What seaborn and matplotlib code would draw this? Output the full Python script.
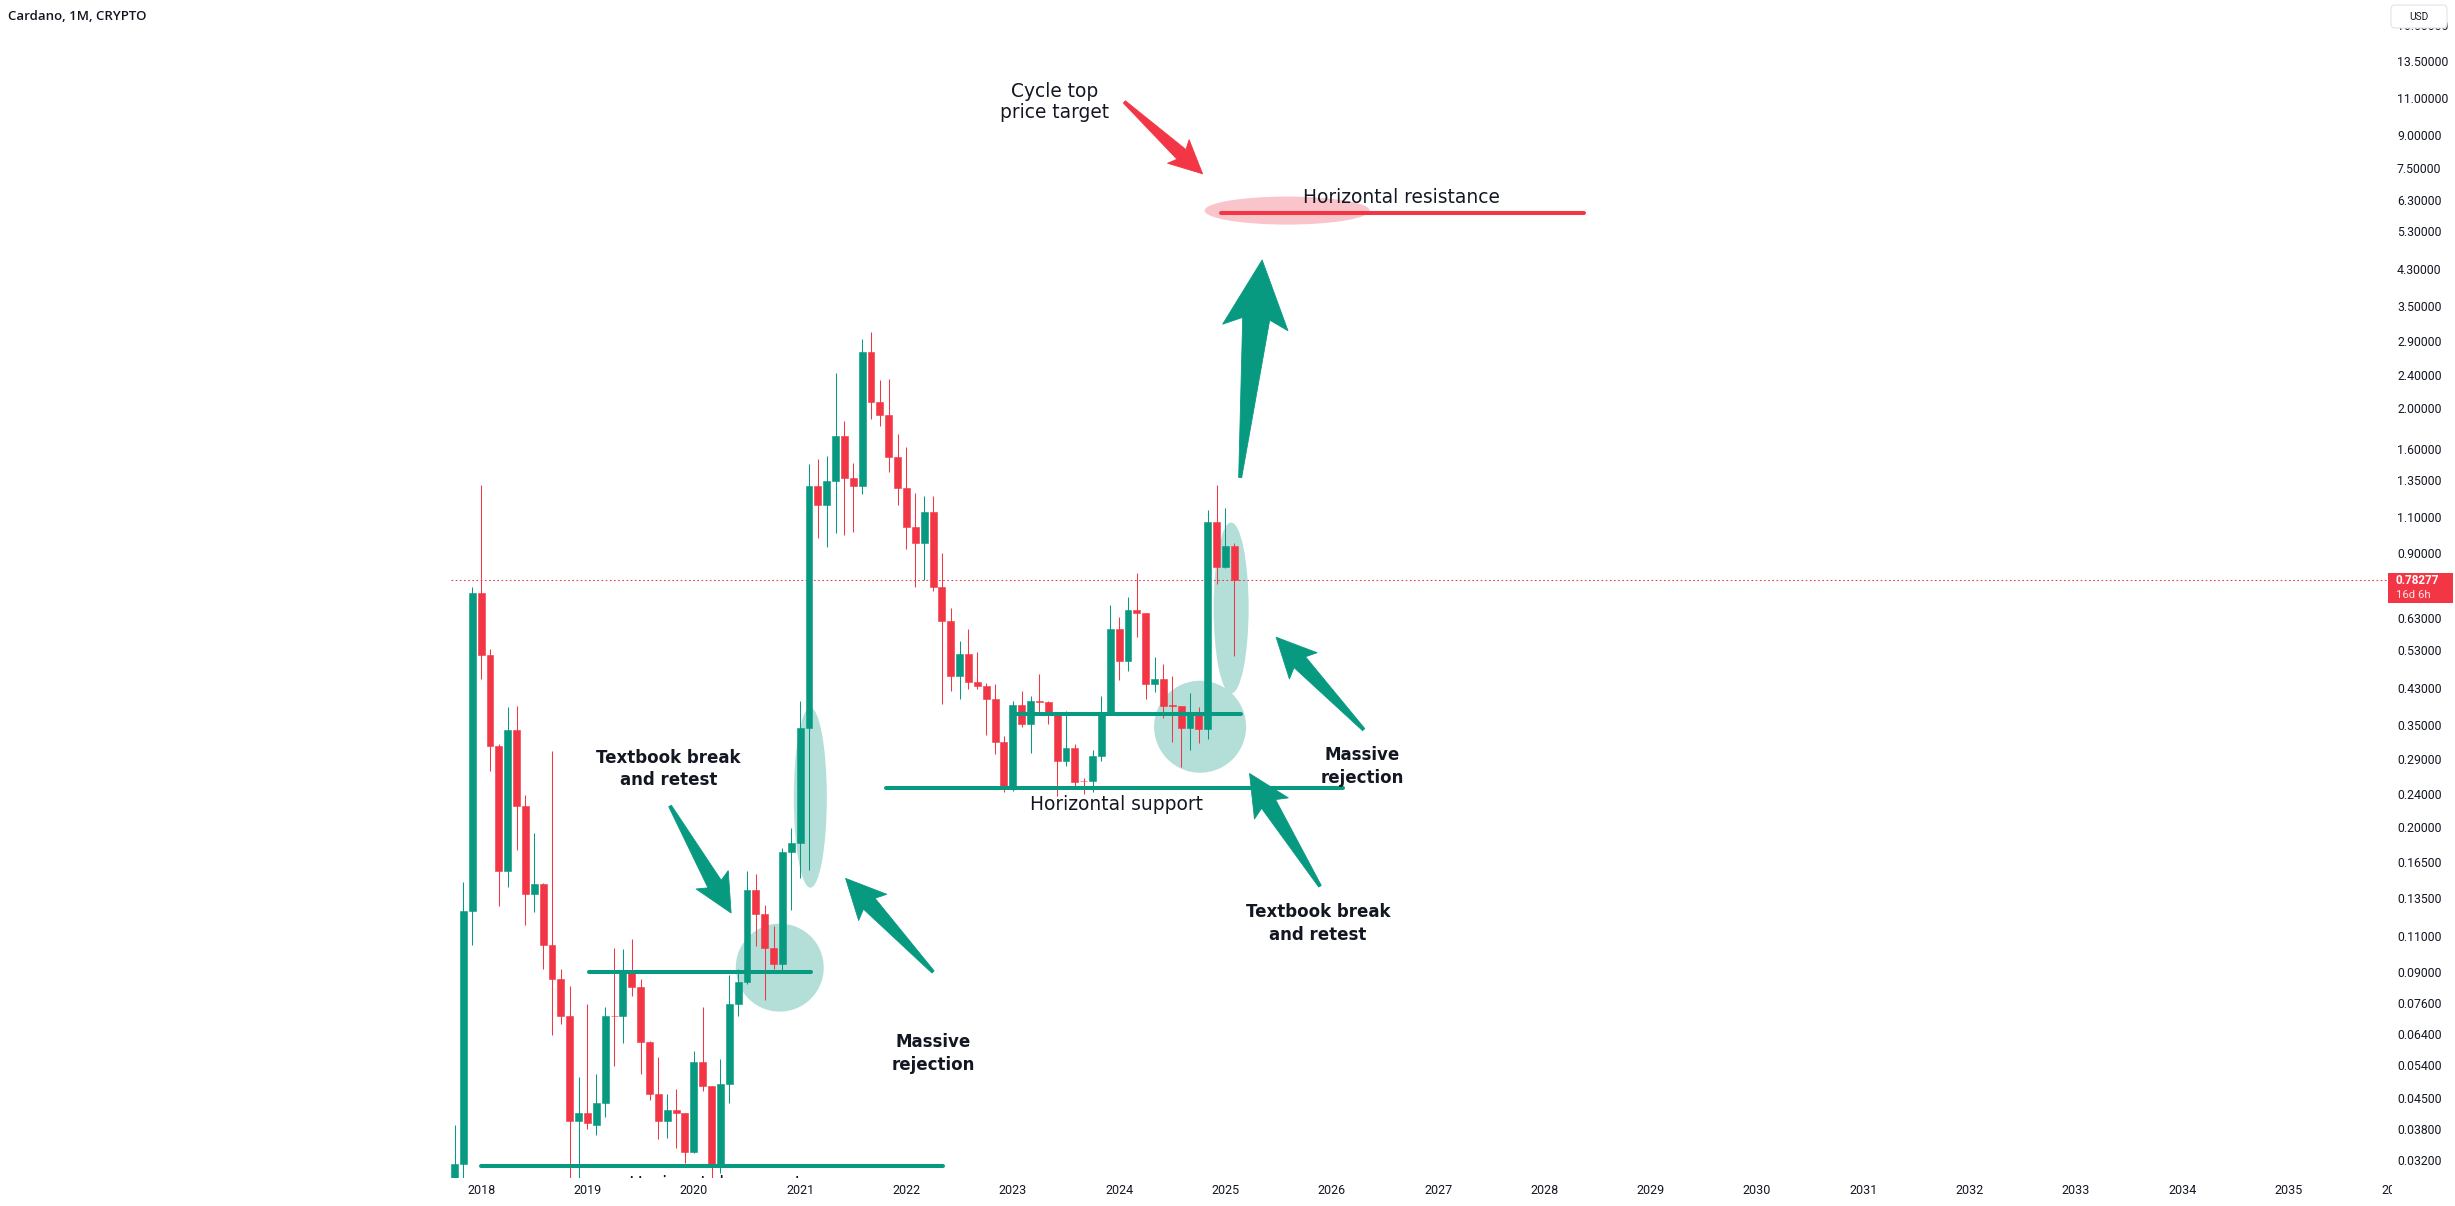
import numpy as np
import pandas as pd
import matplotlib
matplotlib.use("Agg")
import matplotlib.pyplot as plt
import matplotlib.ticker as mticker
import seaborn as sns
from matplotlib.patches import Ellipse, Polygon, FancyBboxPatch, Rectangle
from matplotlib.transforms import Bbox, IdentityTransform, blended_transform_factory

# ---------------- data (monthly candles, Oct 2017 .. Feb 2025) ----------------
months = pd.period_range("2017-10", "2025-02", freq="M").strftime("%Y-%m").tolist()

open_ = [0.0250, 0.0315, 0.1269, 0.7290, 0.5180, 0.3151, 0.1579, 0.3428, 0.2263, 0.1395,
         0.1471, 0.1051, 0.0874, 0.0714, 0.0399, 0.0417, 0.0392, 0.0441, 0.0714, 0.0712,
         0.0917, 0.0836, 0.0618, 0.0463, 0.0400, 0.0424, 0.0417, 0.0338, 0.0552, 0.0484,
         0.0316, 0.0490, 0.0760, 0.0858, 0.1429, 0.1246, 0.1037, 0.0951, 0.1754, 0.1849,
         0.3474, 1.3170, 1.1860, 1.3515, 1.7300, 1.3760, 1.3170, 2.7480, 2.0910, 1.9430,
         1.5450, 1.3030, 1.0510, 0.9627, 1.1390, 0.7557, 0.6268, 0.4632, 0.5219, 0.4481,
         0.4384, 0.4082, 0.3223, 0.2484, 0.3942, 0.3551, 0.4030, 0.4000, 0.3778, 0.2897,
         0.3108, 0.2600, 0.2600, 0.2979, 0.3765, 0.5990, 0.5030, 0.6648, 0.6528, 0.4424,
         0.4547, 0.3937, 0.3927, 0.3479, 0.3765, 0.3449, 1.0785, 0.8437, 0.9451]
high_ = [0.0392, 0.1486, 0.7545, 1.3200, 0.5360, 0.3180, 0.3889, 0.3930, 0.2404, 0.1949,
         0.1479, 0.3062, 0.0921, 0.0840, 0.0510, 0.0760, 0.0519, 0.0747, 0.1037, 0.1029,
         0.1087, 0.0874, 0.0620, 0.0570, 0.0463, 0.0478, 0.0418, 0.0589, 0.0747, 0.0486,
         0.0562, 0.0893, 0.0921, 0.1579, 0.1558, 0.1314, 0.1167, 0.1791, 0.2000, 0.4030,
         1.4840, 1.5250, 1.5500, 2.4470, 1.8810, 1.4920, 2.9510, 3.0660, 2.3550, 2.3680,
         1.7500, 1.6290, 1.2650, 1.2440, 1.2440, 0.9080, 0.6720, 0.5605, 0.5990, 0.5278,
         0.4442, 0.4424, 0.3324, 0.4024, 0.4258, 0.4143, 0.4675, 0.4020, 0.3800, 0.3821,
         0.3180, 0.2634, 0.3078, 0.4150, 0.6834, 0.6385, 0.7129, 0.8133, 0.6528, 0.5125,
         0.4932, 0.4624, 0.3927, 0.4218, 0.3894, 1.1520, 1.3220, 1.1629, 0.9592]
low_ = [0.0180, 0.0270, 0.1051, 0.4543, 0.2742, 0.1307, 0.1448, 0.1777, 0.1173, 0.1263,
        0.0921, 0.0643, 0.0681, 0.0265, 0.0290, 0.0382, 0.0370, 0.0408, 0.0542, 0.0613,
        0.0797, 0.0517, 0.0450, 0.0362, 0.0365, 0.0344, 0.0318, 0.0335, 0.0471, 0.0175,
        0.0300, 0.0441, 0.0712, 0.0851, 0.1045, 0.0777, 0.0921, 0.0920, 0.1280, 0.1526,
        0.1590, 0.9890, 0.9420, 1.0170, 1.0040, 1.0230, 1.2600, 1.9040, 1.8320, 1.4220,
        1.1860, 0.9310, 0.7530, 0.7828, 0.7393, 0.3964, 0.4266, 0.4082, 0.4297, 0.4300,
        0.3343, 0.3006, 0.2439, 0.2450, 0.3499, 0.3032, 0.3765, 0.3551, 0.2390, 0.2819,
        0.2507, 0.2416, 0.2447, 0.2890, 0.3760, 0.4522, 0.4762, 0.5740, 0.4068, 0.4242,
        0.3664, 0.3223, 0.2808, 0.3078, 0.3194, 0.3265, 0.7671, 0.8372, 0.5171]
close_ = [0.0315, 0.1269, 0.7290, 0.5180, 0.3151, 0.1579, 0.3428, 0.2263, 0.1395, 0.1471,
          0.1051, 0.0874, 0.0714, 0.0399, 0.0419, 0.0395, 0.0441, 0.0714, 0.0712, 0.0917,
          0.0836, 0.0618, 0.0463, 0.0400, 0.0424, 0.0417, 0.0338, 0.0552, 0.0484, 0.0316,
          0.0490, 0.0760, 0.0858, 0.1429, 0.1246, 0.1037, 0.0951, 0.1754, 0.1849, 0.3474,
          1.3170, 1.1860, 1.3515, 1.7300, 1.3760, 1.3170, 2.7480, 2.0910, 1.9430, 1.5450,
          1.3030, 1.0510, 0.9627, 1.1390, 0.7557, 0.6268, 0.4632, 0.5219, 0.4481, 0.4384,
          0.4082, 0.3223, 0.2484, 0.3942, 0.3551, 0.4030, 0.4000, 0.3778, 0.2897, 0.3108,
          0.2581, 0.2590, 0.2979, 0.3765, 0.5990, 0.5030, 0.6648, 0.6528, 0.4424, 0.4547,
          0.3927, 0.3927, 0.3479, 0.3731, 0.3449, 1.0785, 0.8437, 0.9451, 0.78277]

last_price = 0.78277
last_label = "0.78277"
countdown = "16d 6h"
title = "Cardano, 1M, CRYPTO"

price_ticks = [16.5, 13.5, 11.0, 9.0, 7.5, 6.3, 5.3, 4.3, 3.5, 2.9, 2.4, 2.0, 1.6, 1.35, 1.1,
               0.9, 0.63, 0.53, 0.43, 0.35, 0.29, 0.24, 0.20, 0.165, 0.135, 0.11, 0.09,
               0.076, 0.064, 0.054, 0.045, 0.038, 0.032]
years = list(range(2018, 2037))
year_labels = [str(y) for y in years]

# drawn horizontal levels (time in month index from Oct 2017, price in USD)
level_names = ["base", "range", "support", "retest", "resistance"]
level_price = [0.0312, 0.0906, 0.25, 0.376, 5.9]
level_from = [3.0, 15.2, 48.7, 63.0, 86.5]
level_to = [55.1, 40.2, 100.3, 88.7, 127.5]
level_kind = ["green", "green", "green", "green", "red"]

GREEN = "#089981"
RED = "#F23645"
TEXT = "#131722"
TEAL_FILL = "#B4DFD9"
PINK_FILL = "#F9C4CA"

# ---------------- figure ----------------
sns.set_theme(style="white")
plt.rcParams["font.family"] = ["DejaVu Sans"]

W, H = 2455, 1206
fig = plt.figure(figsize=(W / 100, H / 100), dpi=100, facecolor="white")
AX_W, AX_B, AX_H = 2388, 28, 1178
ax = fig.add_axes([0, AX_B / H, AX_W / W, AX_H / H])
ax.set_facecolor("white")
ax.set_yscale("log")

x = np.arange(len(months))
o = np.array(open_); hi = np.array(high_); lo = np.array(low_); c = np.array(close_)
cols = np.where(c >= o, GREEN, RED)

ax.vlines(x, lo, hi, colors=cols, linewidth=0.75, zorder=3)
ax.bar(x, np.abs(c - o), bottom=np.minimum(o, c), width=0.78, color=cols,
       edgecolor=cols, linewidth=0.4, zorder=3.1)

lv = pd.DataFrame({
    "level": np.repeat(level_names, 2),
    "x": np.ravel(np.column_stack([level_from, level_to])),
    "price": np.repeat(level_price, 2),
})
pal = {n: (GREEN if k == "green" else RED) for n, k in zip(level_names, level_kind)}
sns.lineplot(data=lv, x="x", y="price", hue="level", palette=pal, estimator=None,
             sort=False, linewidth=2.9, legend=False, ax=ax, zorder=4,
             solid_capstyle="round")

ax.hlines(last_price, -0.45, 218.2, colors=RED, linewidth=0.75,
          linestyles=(0, (1.6, 2.4)), zorder=2.5)

ax.set_xlim(-51.3, 218.2)
ax.set_ylim(0.02924, 19.04)
ax.set_xlabel(""); ax.set_ylabel("")
ax.xaxis.set_major_locator(mticker.NullLocator())
ax.xaxis.set_minor_locator(mticker.NullLocator())
ax.yaxis.set_major_locator(mticker.NullLocator())
ax.yaxis.set_minor_locator(mticker.NullLocator())
for s in ax.spines.values():
    s.set_visible(False)

# ---------------- axes labels ----------------
ytrans = blended_transform_factory(ax.transAxes, ax.transData)
for v in price_ticks:
    ax.text(1 + 9 / AX_W, v, f"{v:.5f}", transform=ytrans, ha="left", va="center",
            fontsize=8.8, family=["Roboto", "DejaVu Sans"], color=TEXT, clip_on=False)

xtrans = blended_transform_factory(ax.transData, ax.transAxes)
clipbb = Bbox.from_extents(0, 0, 2392, H)
for y, lab in zip(years, year_labels):
    t = ax.text((y - 2017) * 12 - 9, -12 / AX_H, lab, transform=xtrans, ha="center",
                va="center", fontsize=9, family=["Roboto", "DejaVu Sans"], color=TEXT)
    t.set_clip_path(None)
    t.set_clip_box(clipbb)
    t.set_clip_on(True)

# ---------------- drawings ----------------
def add_ellipse(ci, cp, w, h, color):
    cxy = ax.transData.transform((ci, cp))
    ax.add_patch(Ellipse(cxy, w, h, facecolor=color, edgecolor="none",
                         transform=IdentityTransform(), zorder=1))

def add_arrow(ti, tp, pi, pp, color):
    T = ax.transData.transform((ti, tp))
    P = ax.transData.transform((pi, pp))
    d = P - T
    L = np.hypot(*d)
    u = d / L
    n = np.array([-u[1], u[0]])
    hl, hw, sw, nt, tw = 0.27 * L, 0.15 * L, 0.062 * L, 0.04 * L, 1.5
    B = P - u * hl
    pts = [T + n * tw, B + n * sw, B - u * nt + n * hw, P,
           B - u * nt - n * hw, B - n * sw, T - n * tw]
    ax.add_patch(Polygon(pts, closed=True, facecolor=color, edgecolor=color,
                         linewidth=0.6, joinstyle="round",
                         transform=IdentityTransform(), zorder=5, clip_on=False))

add_ellipse(36.7, 0.0930, 88, 88, TEAL_FILL)
add_ellipse(40.15, 0.2368, 33, 180, TEAL_FILL)
add_ellipse(84.14, 0.3498, 92, 92, TEAL_FILL)
add_ellipse(87.64, 0.6721, 35, 171, TEAL_FILL)
add_ellipse(93.96, 5.98, 165, 28, PINK_FILL)

add_arrow(24.32, 0.2262, 31.21, 0.1256, GREEN)
add_arrow(54.0, 0.0908, 44.13, 0.1519, GREEN)
add_arrow(88.66, 1.377, 91.14, 4.557, GREEN)
add_arrow(102.6, 0.3443, 92.72, 0.5723, GREEN)
add_arrow(97.67, 0.1455, 89.72, 0.2705, GREEN)
add_arrow(75.59, 10.87, 84.42, 7.32, RED)

norm = dict(fontsize=13.4, color=TEXT, ha="center", va="center", zorder=6,
            family=["DejaVu Sans"], linespacing=1.17)
bold = dict(fontsize=12.0, color=TEXT, ha="center", va="center", zorder=6,
            family=["DejaVu Sans"], fontweight="bold", linespacing=1.32)
ax.text(67.67, 10.87, "Cycle top\nprice target", **norm)
ax.text(106.83, 6.437, "Horizontal resistance", **norm)
ax.text(74.7, 0.2277, "Horizontal support", **norm)
ax.text(24.15, 0.2776, "Textbook break\nand retest", **bold)
ax.text(54.0, 0.05794, "Massive\nrejection", **bold)
ax.text(102.4, 0.2812, "Massive\nrejection", **bold)
ax.text(97.46, 0.1184, "Textbook break\nand retest", **bold)
hs = dict(norm); hs["va"] = "top"
ax.text(29.4, 0.02974, "Horizontal support", clip_on=True, **hs)

# ---------------- chrome ----------------
def fx(px):
    return px / W

def fy(py):
    return 1 - py / H

fig.text(fx(8), fy(17), title, ha="left", va="center", fontsize=9.5,
         family=["Open Sans", "DejaVu Sans"], fontweight="semibold", color=TEXT)

fig.add_artist(FancyBboxPatch((2391, H - 28), 56, 23,
                              boxstyle="round,pad=0,rounding_size=4",
                              facecolor="white", edgecolor="#E0E3EB", linewidth=0.8,
                              transform=IdentityTransform()))
fig.text(fx(2419), fy(16.5), "USD", ha="center", va="center", fontsize=7.3,
         family=["Roboto", "DejaVu Sans"], color=TEXT)

fig.add_artist(Rectangle((2388, H - 603), 65, 30, facecolor=RED, edgecolor="none",
                         transform=IdentityTransform()))
fig.text(fx(2396), fy(581), last_label, ha="left", va="center", fontsize=8.4,
         family=["Roboto", "DejaVu Sans"], fontweight="bold", color="white")
fig.text(fx(2396), fy(595), countdown, ha="left", va="center", fontsize=8.2,
         family=["Roboto", "DejaVu Sans"], color="#FDE3E6")

fig.savefig("out.png", dpi=100, facecolor="white")
